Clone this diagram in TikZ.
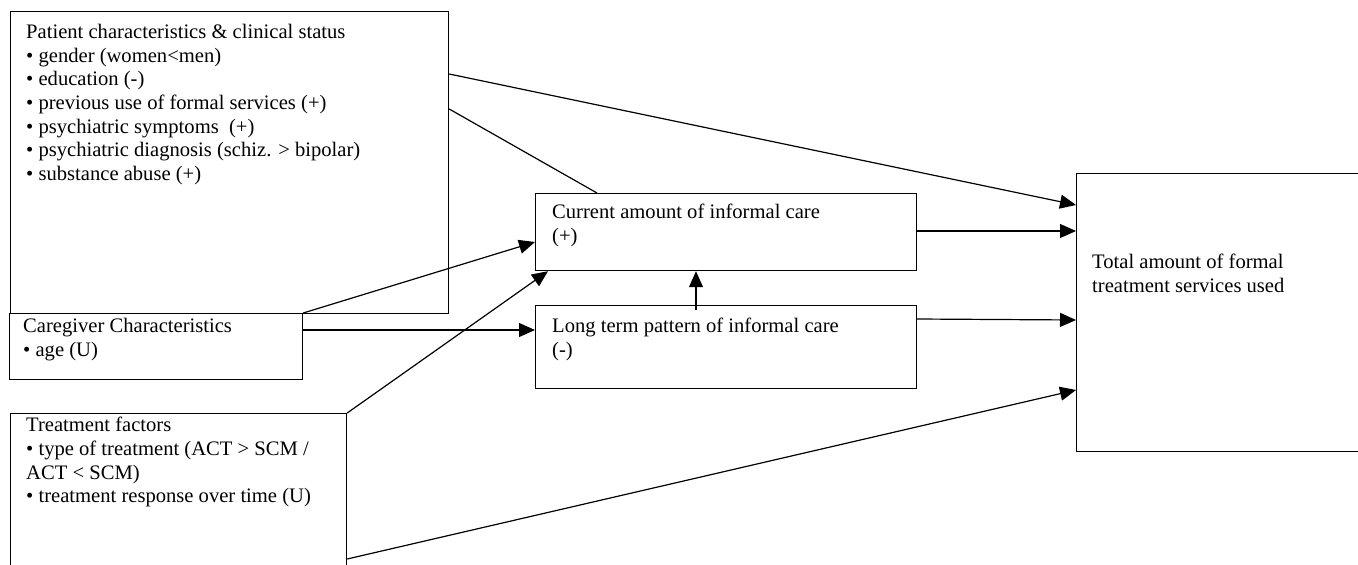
\documentclass[tikz,border=0pt]{standalone}
\usepackage{fontspec}
\setmainfont{Liberation Serif}
\usetikzlibrary{arrows.meta}
\tikzset{
  box/.style={draw, line width=1.2pt, rectangle, inner sep=0pt, anchor=north west},
  txt/.style={anchor=north west, inner sep=0pt, align=left, font=\fontsize{20.6}{23.7}\selectfont},
  conn/.style={line width=1.2pt},
  arr/.style={line width=1.2pt, -{Triangle[length=16pt,width=14pt]}}
}
\begin{document}
\begin{tikzpicture}[x=1pt,y=-1pt]
\useasboundingbox (0,0) rectangle (1358,565);
% boxes
\node[box, minimum width=438pt, minimum height=302pt] (pat) at (10,11) {};
\node[box, minimum width=293pt, minimum height=66pt, fill=white] (cg) at (9,313) {};
\node[box, minimum width=336pt, minimum height=170pt] (tr) at (10,413) {};
\node[box, minimum width=381pt, minimum height=77pt] (cur) at (535,193) {};
\node[box, minimum width=381pt, minimum height=83pt] (lt) at (535,305) {};
\node[box, minimum width=300pt, minimum height=278pt] (tot) at (1076,173) {};
% texts
\node[txt] (patt) at (26,24) {Patient characteristics \& clinical status\\
\textbullet{} gender (women<men)\\
\textbullet{} education (-)\\
\textbullet{} previous use of formal services (+)\\
\textbullet{} psychiatric symptoms~ (+)\\
\textbullet{} psychiatric diagnosis (schiz. > bipolar)\\
\textbullet{} substance abuse (+)};
\node[txt] (cgt) at (23,318) {Caregiver Characteristics\\
\textbullet{} age (U)};
\node[txt] (trt) at (26,417) {Treatment factors\\
\textbullet{} type of treatment (ACT > SCM /\\
ACT < SCM)\\
\textbullet{} treatment response over time (U)};
\node[txt] (curt) at (552,204) {Current amount of informal care\\(+)};
\node[txt] (ltt) at (552,318) {Long term pattern of informal care\\(-)};
\node[txt] (tott) at (1092,254) {Total amount of formal\\treatment services used};
% connectors
\draw[arr] ([yshift=-63pt]pat.north east) -- ([yshift=-32pt]tot.north west);
\draw[conn] ([yshift=-98pt]pat.north east) -- ([xshift=62pt]cur.north west);
\draw[arr] ([yshift=-38pt]cur.north east) -- ([yshift=-58pt]tot.north west);
\draw[arr] ([yshift=-14pt]lt.north east) -- ([yshift=-147pt]tot.north west);
\draw[arr] ([yshift=-146pt]tr.north east) -- ([yshift=-217pt]tot.north west);
\draw[arr] (cg.north east) -- ([yshift=-49pt]cur.north west);
\draw[arr] ([yshift=-17pt]cg.north east) -- ([yshift=-25pt]lt.north west);
\draw[arr] (tr.north east) -- ([xshift=13pt]cur.south west);
\draw[arr] ([xshift=161pt,yshift=-5pt]lt.north west) -- ([xshift=161pt]cur.south west);
\end{tikzpicture}
\end{document}
